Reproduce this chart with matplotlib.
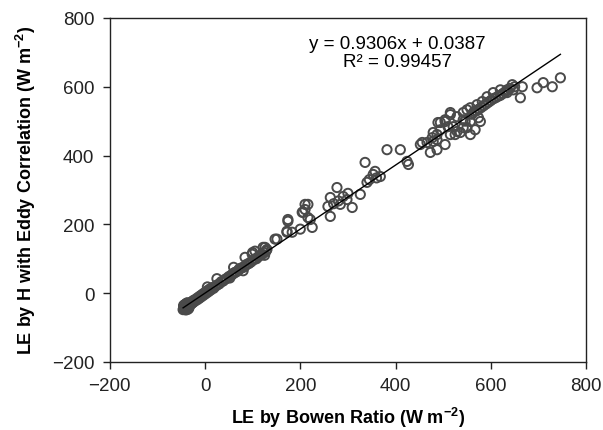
import numpy as np
import matplotlib
matplotlib.use("Agg")
import matplotlib.pyplot as plt

plt.rcParams['font.family'] = ['Liberation Sans', 'DejaVu Sans']
plt.rcParams['mathtext.fontset'] = 'custom'
plt.rcParams['mathtext.rm'] = 'Liberation Sans'
plt.rcParams['mathtext.bf'] = 'Liberation Sans:bold'

# LE by Bowen ratio (x) vs LE by H with eddy correlation (y), W m-2
bowen = [-45, -44, -43, -42, -41, -40, -40, -39, -38, -38, -37, -36, -36, -35, -34,
         -33, -33, -32, -31, -30, -29, -28, -27, -26, -25, -24, -22, -20, -18, -16,
         -14, -12, -10, -8, -6, -4, -2, 0, 2, 4, 6, 8, 10, 12, 15, 18, 5, 25,
         -46, -44, -42, -40, -38, -36, -34, -45, -43, -41, -39, -37,
         22, 26, 30, 34, 38, 42, 46, 50, 52, 55, 58, 60, 63, 66, 70, 72, 75, 78,
         82, 85, 88, 92, 96, 100, 104, 108, 112, 116, 120, 124, 128, 130,
         60, 80, 100, 125,
         84, 99, 105, 122, 126, 147, 151, 172, 172, 183, 200, 225, 174, 174, 204,
         210, 216, 216, 221, 206, 210, 258, 263, 263, 277, 284, 290, 298, 309, 326,
         340, 336, 353, 357, 345, 360, 368, 382, 410, 424, 427, 456, 473, 487, 477,
         466, 452, 489, 270, 280, 300,
         479, 479, 487, 487, 494, 494, 504, 504, 504, 510, 515, 515, 515, 521, 525,
         529, 529, 536, 542, 542, 542, 546, 550, 550, 557, 557, 557, 567, 571, 574,
         578, 582, 592, 605, 620, 634, 634, 645, 647, 662, 666, 697, 710, 729, 746,
         560, 565, 570, 575, 580, 585, 590, 595, 600, 605, 610, 615, 620, 625, 630,
         635, 640, 650]
eddy = [-42, -38, -45, -40, -36, -43, -38, -41, -35, -44, -39, -33, -42, -37, -40,
        -31, -36, -34, -29, -33, -27, -30, -25, -28, -22, -26, -20, -22, -16, -19,
        -12, -15, -8, -11, -4, -7, 0, -3, 4, 1, 8, 5, 12, 9, 16, 14, 18, 42,
        -48, -46, -47, -49, -45, -47, -44, -36, -34, -32, -30, -28,
        20, 24, 27, 33, 35, 40, 43, 48, 44, 52, 55, 58, 60, 62, 66, 70, 72, 74,
        76, 80, 84, 86, 90, 95, 99, 100, 106, 110, 113, 118, 122, 127,
        75, 65, 118, 110,
        104, 113, 122, 133, 133, 157, 157, 177, 180, 177, 186, 191, 209, 214, 235,
        243, 220, 258, 214, 235, 258, 252, 223, 278, 307, 258, 281, 272, 249, 287,
        322, 380, 345, 354, 330, 335, 339, 417, 417, 383, 374, 438, 409, 417, 452,
        438, 432, 496, 260, 268, 290,
        441, 467, 446, 461, 475, 496, 432, 499, 504, 484, 461, 519, 525, 484, 461,
        470, 513, 467, 481, 504, 525, 500, 481, 533, 499, 539, 461, 475, 548, 510,
        499, 557, 571, 583, 591, 591, 583, 606, 591, 568, 600, 597, 612, 600, 626,
        520, 528, 530, 535, 540, 545, 550, 555, 560, 565, 568, 572, 575, 580, 585,
        590, 595, 600]

slope, intercept = 0.9306, 0.0387

fig = plt.figure(figsize=(6.03, 4.31), dpi=100)
ax = fig.add_axes([0.182, 0.158, 0.790, 0.798])

ax.scatter(bowen, eddy, s=44, facecolors='none', edgecolors='#4a4a4a',
           linewidths=1.4, zorder=2)

xl = np.array([min(bowen), max(bowen)])
ax.plot(xl, slope * xl + intercept, color='black', lw=1.0, zorder=3)

ax.text(404, 725, 'y = 0.9306x + 0.0387', ha='center', va='center', fontsize=13.5)
ax.text(404, 672, 'R² = 0.99457', ha='center', va='center', fontsize=13.5)

ax.set_xlim(-200, 800)
ax.set_ylim(-200, 800)
ax.set_xticks([-200, 0, 200, 400, 600, 800])
ax.set_yticks([-200, 0, 200, 400, 600, 800])
ax.tick_params(direction='out', length=5, width=1, labelsize=13.5, pad=6,
               colors='#222222')
for sp in ax.spines.values():
    sp.set_linewidth(1.0)
    sp.set_color('#222222')

ax.set_xlabel(r'LE by Bowen Ratio (W m$^{\mathbf{-2}}$)', fontsize=13,
              fontweight='bold', labelpad=8)
ax.set_ylabel(r'LE by H with Eddy Correlation (W m$^{\mathbf{-2}}$)', fontsize=13,
              fontweight='bold', labelpad=10)

fig.savefig('out.png', dpi=100)
